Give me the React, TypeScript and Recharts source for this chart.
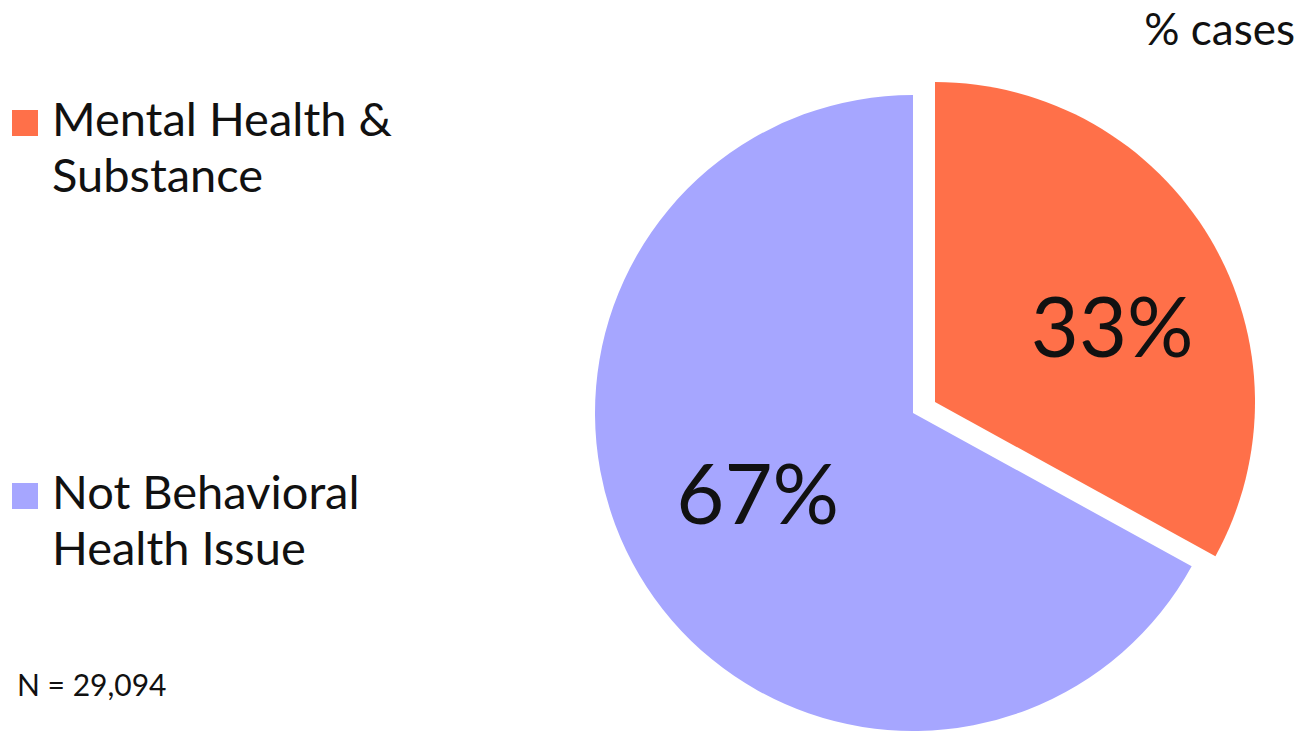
import { Pie, PieChart, Cell } from "recharts";

const categories = ["Mental Health & Substance", "Not Behavioral Health Issue"];
const legendLines = [
  ["Mental Health &", "Substance"],
  ["Not Behavioral", "Health Issue"],
];
const shares = [33, 67];
const colors = ["#FF7049", "#A6A6FF"];
const sampleNote = "N = 29,094";
const unitNote = "% cases";

const W = 1305;
const H = 734;
const RADIAN = Math.PI / 180;
const font = "Lato, 'Noto Sans', sans-serif";

const rows = categories.map((name, i) => ({ name, value: shares[i] }));

function makeLabel(show: number, ratio: number, dx: number, dy: number) {
  return (p: any) => {
    if (p.index !== show) return null;
    const r = p.outerRadius * ratio;
    const x = p.cx + r * Math.cos(-p.midAngle * RADIAN) + dx;
    const y = p.cy + r * Math.sin(-p.midAngle * RADIAN) + dy;
    return (
      <text
        x={x}
        y={y}
        textAnchor="middle"
        dominantBaseline="central"
        fill="#111"
        fontFamily={font}
        fontSize={83}
      >
        {`${p.value}%`}
      </text>
    );
  };
}

export default function App() {
  return (
    <div
      style={{
        position: "absolute",
        left: 0,
        top: 0,
        width: W,
        height: H,
        background: "#fff",
        fontFamily: font,
        color: "#111",
      }}
    >
      <PieChart
        width={W}
        height={H}
        margin={{ top: 0, right: 0, bottom: 0, left: 0 }}
        style={{ position: "absolute", left: 0, top: 0 }}
      >
        <Pie
          data={rows}
          dataKey="value"
          cx={913}
          cy={413}
          outerRadius={318}
          startAngle={90}
          endAngle={-270}
          stroke="none"
          labelLine={false}
          label={makeLabel(1, 0.56, -2, -12)}
          isAnimationActive={false}
        >
          {rows.map((r, i) => (
            <Cell key={r.name} fill={i === 1 ? colors[1] : "transparent"} />
          ))}
        </Pie>
        <Pie
          data={rows}
          dataKey="value"
          cx={935}
          cy={402}
          outerRadius={320}
          startAngle={90}
          endAngle={-270}
          stroke="none"
          labelLine={false}
          label={makeLabel(0, 0.6, 12, 21)}
          isAnimationActive={false}
        >
          {rows.map((r, i) => (
            <Cell key={r.name} fill={i === 0 ? colors[0] : "transparent"} />
          ))}
        </Pie>
      </PieChart>

      {legendLines.map((lines, i) => (
        <div
          key={categories[i]}
          style={{ position: "absolute", left: 12, top: i === 0 ? 90 : 463 }}
        >
          <div
            style={{
              position: "absolute",
              left: 0,
              top: 20,
              width: 26,
              height: 26,
              background: colors[i],
            }}
          />
          <div
            style={{
              position: "absolute",
              left: 40,
              top: 0,
              fontSize: 47,
              lineHeight: "56px",
              whiteSpace: "nowrap",
            }}
          >
            {lines.map((l) => (
              <div key={l}>{l}</div>
            ))}
          </div>
        </div>
      ))}

      <div
        style={{
          position: "absolute",
          left: 17,
          top: 666,
          fontSize: 30,
          lineHeight: "36px",
          whiteSpace: "nowrap",
        }}
      >
        {sampleNote}
      </div>
      <div
        style={{
          position: "absolute",
          right: 10,
          top: 2,
          fontSize: 44,
          lineHeight: "52px",
          whiteSpace: "nowrap",
        }}
      >
        {unitNote}
      </div>
    </div>
  );
}
